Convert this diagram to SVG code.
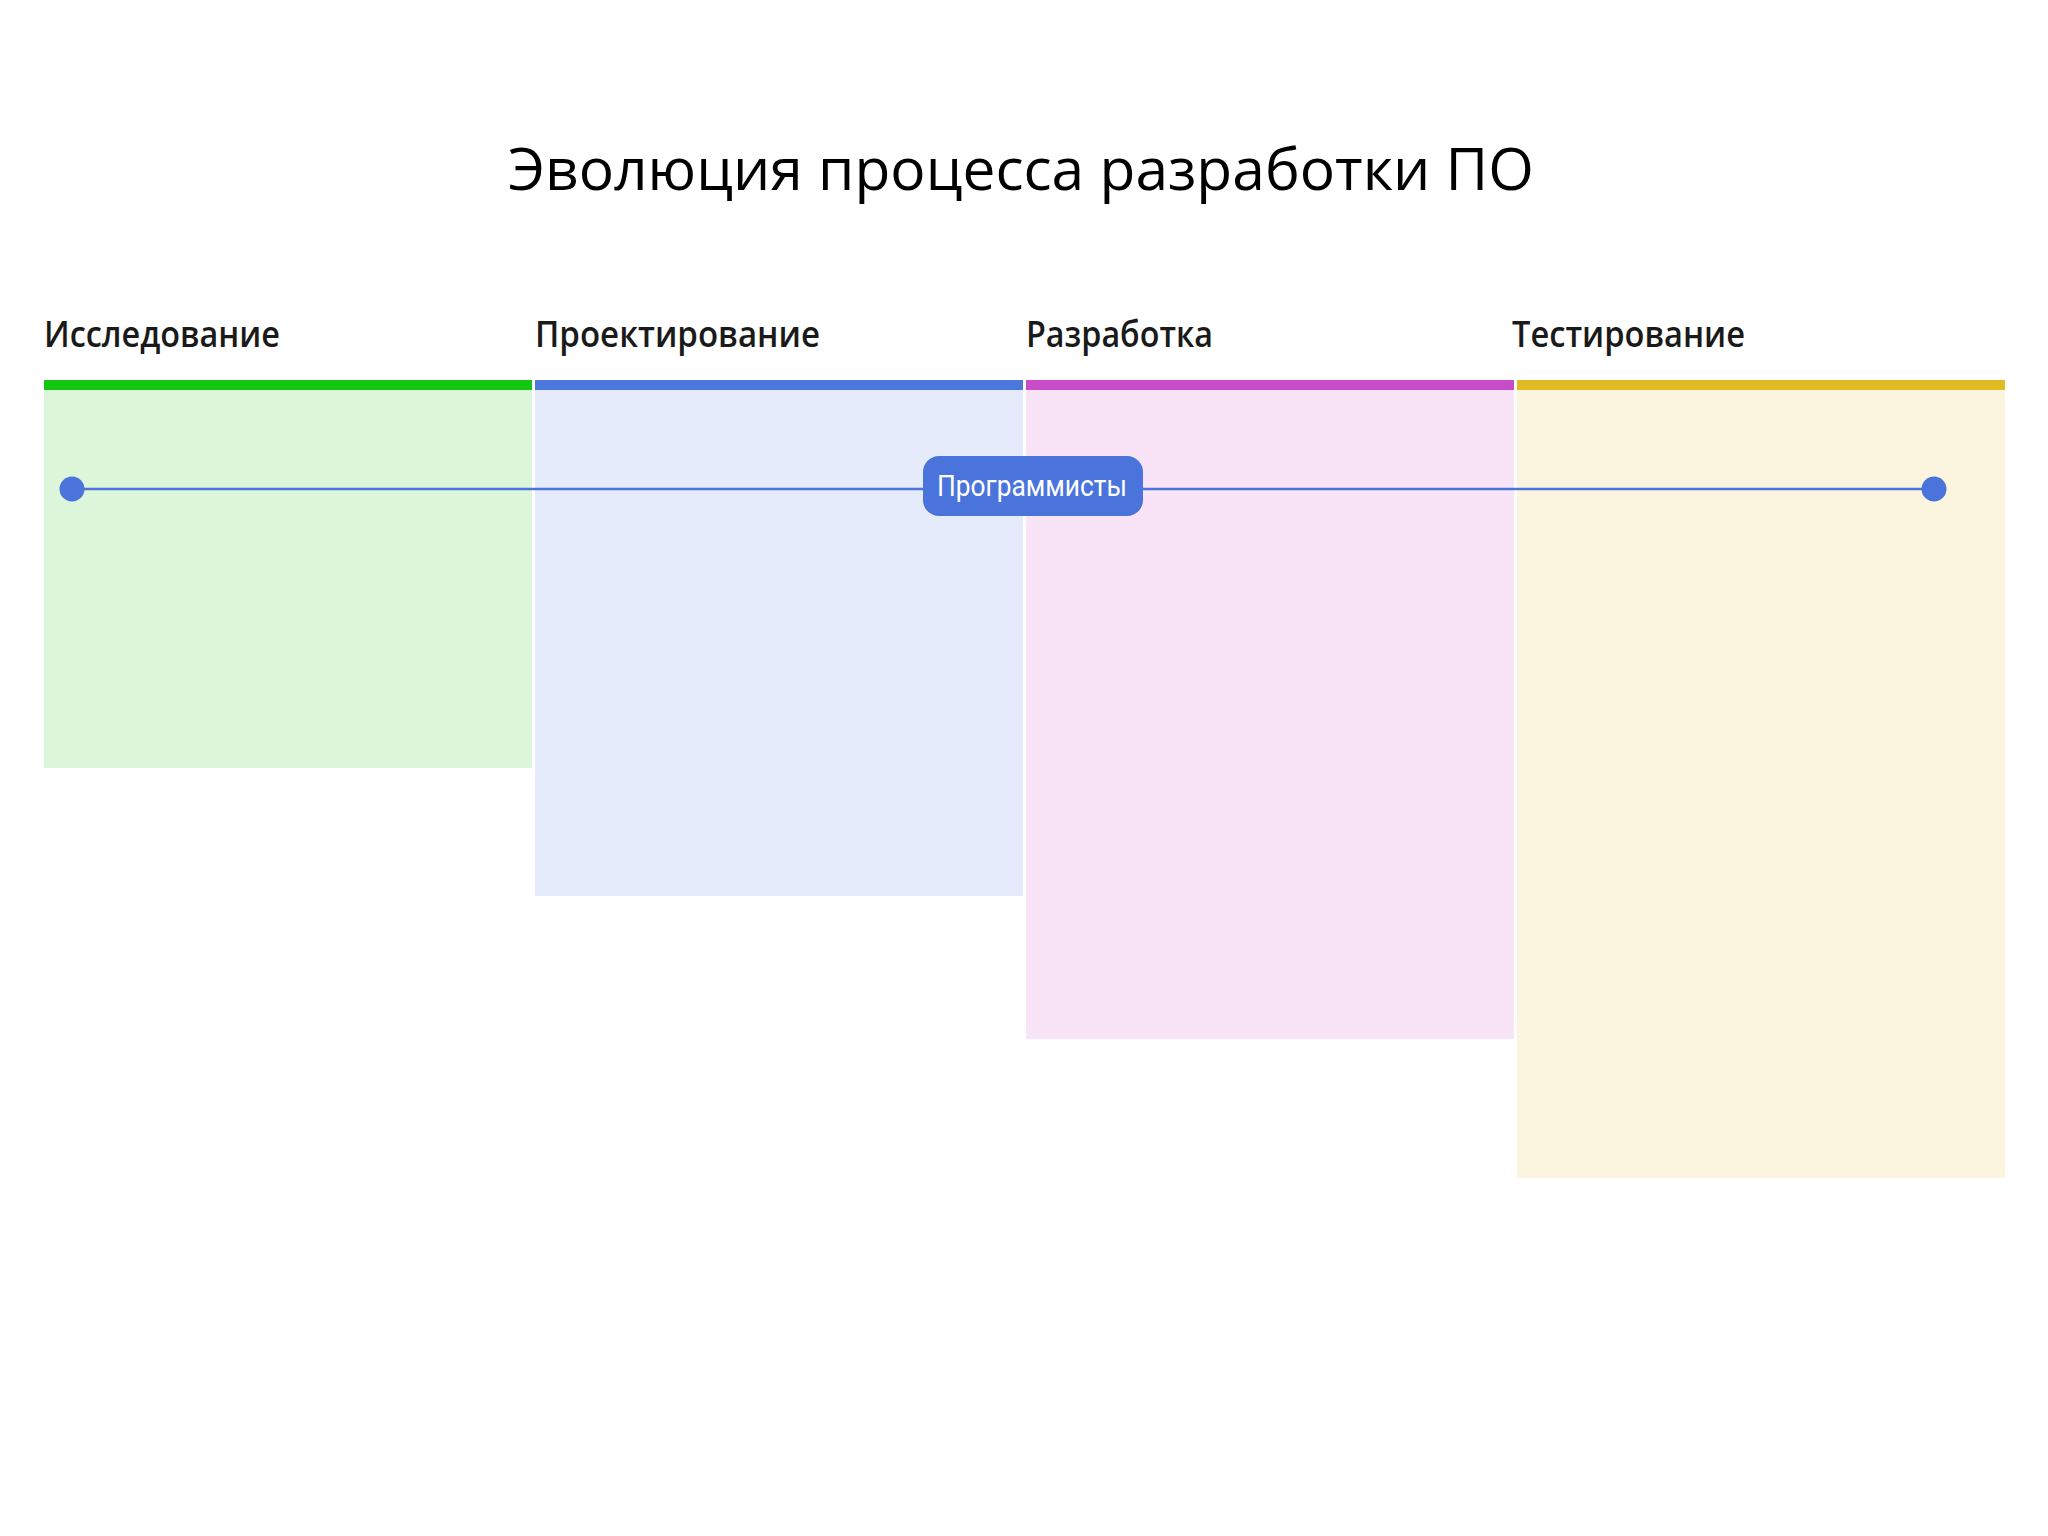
<svg xmlns="http://www.w3.org/2000/svg" width="2048" height="1536" viewBox="0 0 2048 1536">
<style>
.title{font-family:"Open Sans","Noto Sans","DejaVu Sans",sans-serif;font-size:58.5px;fill:#000;}
.hdr{font-family:"Open Sans","Noto Sans","DejaVu Sans",sans-serif;font-size:36px;font-weight:600;fill:#1a1a1a;}
.lbl{font-family:Roboto,"Liberation Sans",sans-serif;font-size:29px;fill:#fff;}
.conn{stroke:#4a74dc;stroke-width:2.5;fill:none;}
.dot{fill:#4a74dc;}
</style>
<rect width="2048" height="1536" fill="#fff"/>
<text class="title" x="1021" y="190" text-anchor="middle" textLength="1026" lengthAdjust="spacingAndGlyphs">Эволюция процесса разработки ПО</text>
<g id="col-research">
<rect x="44" y="390" width="488" height="378" fill="#dcf6d9"/>
<rect x="44" y="380" width="488" height="10" fill="#12c612"/>
<text class="hdr" x="44" y="347" textLength="236" lengthAdjust="spacingAndGlyphs">Исследование</text>
</g>
<g id="col-design">
<rect x="535" y="390" width="488" height="506" fill="#e5ebfa"/>
<rect x="535" y="380" width="488" height="10" fill="#4a78dc"/>
<text class="hdr" x="535" y="347" textLength="285" lengthAdjust="spacingAndGlyphs">Проектирование</text>
</g>
<g id="col-dev">
<rect x="1026" y="390" width="488" height="649" fill="#f8e4f6"/>
<rect x="1026" y="380" width="488" height="10" fill="#c84bc8"/>
<text class="hdr" x="1026" y="347" textLength="187" lengthAdjust="spacingAndGlyphs">Разработка</text>
</g>
<g id="col-test">
<rect x="1517" y="390" width="488" height="788" fill="#fbf4de"/>
<rect x="1517" y="380" width="488" height="10" fill="#e0bc22"/>
<text class="hdr" x="1512" y="347" textLength="233" lengthAdjust="spacingAndGlyphs">Тестирование</text>
</g>
<g id="connectors">
<line class="conn" x1="72" y1="489" x2="1934" y2="489"/>
</g>
<g id="start-dot"><circle class="dot" cx="72" cy="489" r="12.5"/></g>
<g id="end-dot"><circle class="dot" cx="1934" cy="489" r="12.5"/></g>
<g id="programmers">
<rect x="923" y="456" width="220" height="60" rx="16" fill="#4a74dc"/>
<text class="lbl" x="1032" y="496" text-anchor="middle" textLength="190" lengthAdjust="spacingAndGlyphs">Программисты</text>
</g>
</svg>
